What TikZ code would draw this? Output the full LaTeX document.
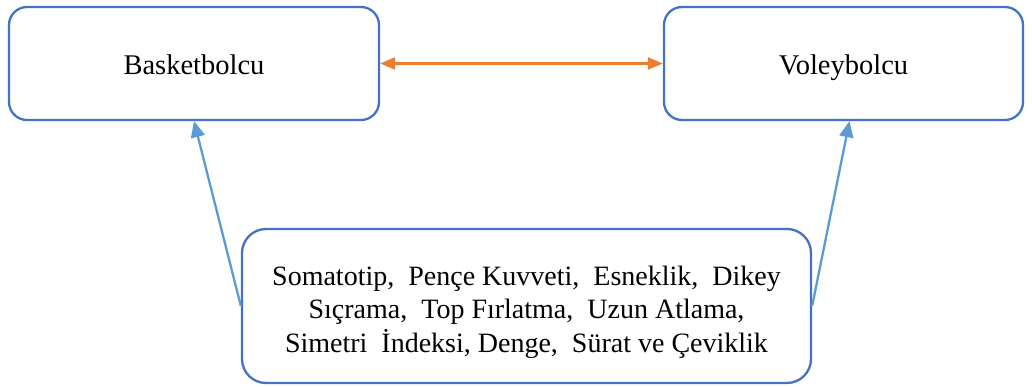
\documentclass[tikz,border=0pt]{standalone}
\usepackage{fontspec}
\setmainfont{Liberation Serif}
\usetikzlibrary{arrows.meta}
\definecolor{boxblue}{HTML}{4472C4}
\definecolor{arrblue}{HTML}{5B9BD5}
\definecolor{arrorange}{HTML}{ED7D31}
\begin{document}
\begin{tikzpicture}[x=1pt,y=-1pt,
  box/.style={draw=boxblue,line width=2.3pt,fill=white,rounded corners=18pt,inner sep=0pt,font=\fontsize{28.5}{35}\selectfont,align=center},
  top box/.style={box,minimum height=113pt,text height=26pt,text depth=3pt},
  blue arrow/.style={draw=arrblue,line width=2.3pt,-{Triangle[length=16pt,width=14pt]}},
  orange arrow/.style={draw=arrorange,line width=2.3pt,{Triangle[length=15pt,width=12pt]}-{Triangle[length=15pt,width=12pt]}}]
\useasboundingbox (0,0) rectangle (1032,387);
\node[top box,minimum width=370pt] (bask) at (194,63.5) {Basketbolcu};
\node[top box,minimum width=359pt] (voley) at (843.5,63.5) {Voleybolcu};
\node[box,minimum width=569pt,minimum height=154pt,rounded corners=24pt,font=\fontsize{28}{33.5}\selectfont] (feat) at (526.5,306)
  {\raisebox{-6pt}[\height][\depth]{\begin{tabular}{@{}c@{}}Somatotip,\ \ Pençe Kuvveti,\ \ Esneklik,\ \ Dikey\\Sıçrama,\ \ Top Fırlatma,\ \ Uzun Atlama,\\Simetri\ \ İndeksi, Denge,\ \ Sürat ve Çeviklik\end{tabular}}};
\draw[orange arrow] (bask.east) -- (voley.west);
\draw[blue arrow] (feat.west) -- (bask.south);
\draw[blue arrow] (feat.east) -- ([xshift=6pt]voley.south);
\end{tikzpicture}
\end{document}
